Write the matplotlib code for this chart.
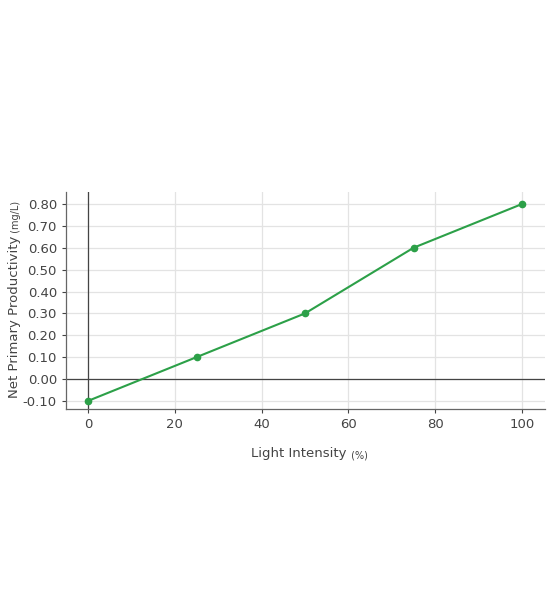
import numpy as np
import matplotlib.pyplot as plt

# data
light = [0, 25, 50, 75, 100]
npp = [-0.10, 0.10, 0.30, 0.60, 0.80]
xticks = [0, 20, 40, 60, 80, 100]
yticks = [-0.1, 0.0, 0.1, 0.2, 0.3, 0.4, 0.5, 0.6, 0.7, 0.8]

fig = plt.figure(figsize=(5.5, 6.11), dpi=100)
ax = fig.add_axes([0.12, 0.3306, 0.871, 0.3552])

ax.set_xlim(-5.07, 105.3)
ax.set_ylim(-0.137, 0.855)
ax.set_xticks(xticks)
ax.set_yticks(yticks)
ax.set_yticklabels(['%.2f' % v for v in yticks])
ax.grid(True, color='#e3e3e3', linewidth=0.9)
ax.set_axisbelow(True)

ax.axhline(0, color='#444444', linewidth=0.9, zorder=1)
ax.axvline(0, color='#444444', linewidth=0.9, zorder=1)

ax.plot(light, npp, color='#2ca048', linewidth=1.5, marker='o', markersize=4.5, zorder=3)

for s in ['top', 'right']:
    ax.spines[s].set_visible(False)
for s in ['left', 'bottom']:
    ax.spines[s].set_color('#666666')
    ax.spines[s].set_linewidth(0.9)
ax.tick_params(colors='#444444', labelsize=9.5, length=3, width=0.8, labelcolor='#444444')

# axis titles with a smaller unit part
xt = fig.text(0.456, 0.252, 'Light Intensity', fontsize=9.5, color='#444444', ha='left', va='baseline')
ax.annotate(' (%)', xy=(1, 0), xycoords=xt, xytext=(1, 0), textcoords='offset points',
            fontsize=7, color='#444444', ha='left', va='bottom', annotation_clip=False)

yt = fig.text(0.026, 0.3486, 'Net Primary Productivity', fontsize=9.5, color='#444444',
              rotation=90, ha='left', va='center', rotation_mode='anchor')
ax.annotate(' (mg/L)', xy=(0.5, 1), xycoords=yt, xytext=(1.5, 0), textcoords='offset points',
            fontsize=7, color='#444444', rotation=90, ha='center', va='bottom',
            annotation_clip=False)

fig.savefig('out.png', dpi=100)
